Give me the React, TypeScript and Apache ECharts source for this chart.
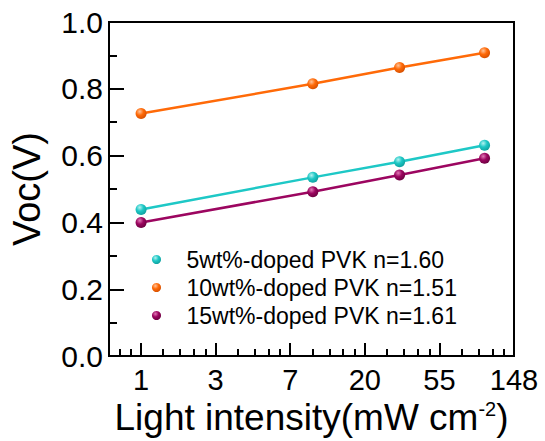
import React, { useEffect, useRef } from "react";
import * as echarts from "echarts";

const intensity = [1, 10, 32, 100];
const voc5 = [0.439, 0.535, 0.582, 0.631];
const voc10 = [0.726, 0.815, 0.864, 0.908];
const voc15 = [0.4, 0.492, 0.542, 0.592];
const seriesNames = ["5wt%-doped PVK n=1.60", "10wt%-doped PVK n=1.51", "15wt%-doped PVK n=1.61"];
const lineColors = ["#1ec8c6", "#ff6a08", "#9c0660"];
const lightColors = ["#b4f2f0", "#ffc49a", "#e27ab6"];
const darkColors = ["#0e9c9a", "#d04c00", "#66003c"];
const majorExps = [0, 1, 2, 3, 4, 5];

const FONT = "'Liberation Sans', Arial, sans-serif";

export default function App() {
  const ref = useRef<HTMLDivElement>(null);
  useEffect(() => {
    if (!ref.current) return;
    const chart = echarts.init(ref.current, undefined, { renderer: "svg" });
    const xMin = Math.exp(-0.43);
    const xMax = Math.exp(5);
    const majorTicks = majorExps.map((k) => Math.exp(k));
    const minorTicks: number[] = [];
    for (let k = -1; k < 5; k++) {
      const a = Math.exp(k);
      const b = Math.exp(k + 1);
      for (let j = 1; j < 5; j++) {
        const v = a + (j * (b - a)) / 5;
        if (v > xMin && v < xMax) minorTicks.push(v);
      }
    }
    const grad = (i: number) =>
      new echarts.graphic.RadialGradient(0.38, 0.32, 0.75, [
        { offset: 0, color: lightColors[i] },
        { offset: 0.45, color: lineColors[i] },
        { offset: 1, color: darkColors[i] },
      ]);
    const vals = [voc5, voc10, voc15];
    const option: any = {
      animation: false,
      backgroundColor: "#ffffff",
      grid: {
        left: 109,
        top: 22,
        width: 405,
        height: 340,
        show: true,
        borderColor: "#000",
        borderWidth: 2,
        backgroundColor: "transparent",
      },
      legend: {
        orient: "vertical",
        left: 152,
        top: 248,
        padding: 0,
        itemWidth: 50,
        itemHeight: 9,
        itemGap: 5,
        icon: "circle",
        textStyle: { fontSize: 23, lineHeight: 23, color: "#000", fontFamily: FONT },
        data: seriesNames,
      },
      xAxis: [
        {
          type: "log",
          logBase: Math.E,
          min: xMin,
          max: xMax,
          axisLine: { lineStyle: { color: "#000", width: 2 } },
          axisTick: {
            inside: true,
            length: 13,
            lineStyle: { color: "#000", width: 2 },
            customValues: majorTicks,
          },
          axisLabel: {
            customValues: majorTicks,
            formatter: (v: number) => String(Math.round(v)),
            fontSize: 29,
            color: "#000",
            fontFamily: FONT,
            margin: 9,
          },
          splitLine: { show: false },
          name: "Light intensity(mW cm{sup|-2})",
          nameLocation: "middle",
          nameGap: 36,
          nameTextStyle: {
            fontSize: 37,
            color: "#000",
            fontFamily: FONT,
            rich: {
              sup: { fontSize: 20, verticalAlign: "top", color: "#000", fontFamily: FONT, padding: [0, 0, 14, 0] },
            },
          },
        },
        {
          type: "log",
          logBase: Math.E,
          min: xMin,
          max: xMax,
          position: "bottom",
          axisLine: { show: false },
          axisTick: {
            inside: true,
            length: 7,
            lineStyle: { color: "#000", width: 2 },
            customValues: minorTicks,
          },
          axisLabel: { show: false },
          splitLine: { show: false },
        },
      ],
      yAxis: {
        type: "value",
        min: 0,
        max: 1,
        interval: 0.2,
        axisLine: { show: true, lineStyle: { color: "#000", width: 2 } },
        axisTick: { show: true, inside: true, length: 15, lineStyle: { color: "#000", width: 2 } },
        minorTick: { show: true, splitNumber: 2, length: 8, lineStyle: { color: "#000", width: 2 } },
        axisLabel: {
          fontSize: 30,
          color: "#000",
          fontFamily: FONT,
          margin: 6,
          formatter: (v: number) => v.toFixed(1),
        },
        splitLine: { show: false },
        name: "Voc(V)",
        nameLocation: "middle",
        nameGap: 63,
        nameTextStyle: { fontSize: 38, color: "#000", fontFamily: FONT },
      },
      series: vals.map((arr, i) => ({
        name: seriesNames[i],
        type: "line",
        xAxisIndex: 0,
        data: intensity.map((x, j) => [x, arr[j]]),
        symbol: "circle",
        symbolSize: 11,
        lineStyle: { color: lineColors[i], width: 2.5 },
        itemStyle: { color: grad(i) },
      })),
    };
    chart.setOption(option);
    return () => chart.dispose();
  }, []);
  return (
    <div
      ref={ref}
      style={{ position: "fixed", left: 0, top: 0, width: 545, height: 441, background: "#fff" }}
    />
  );
}
